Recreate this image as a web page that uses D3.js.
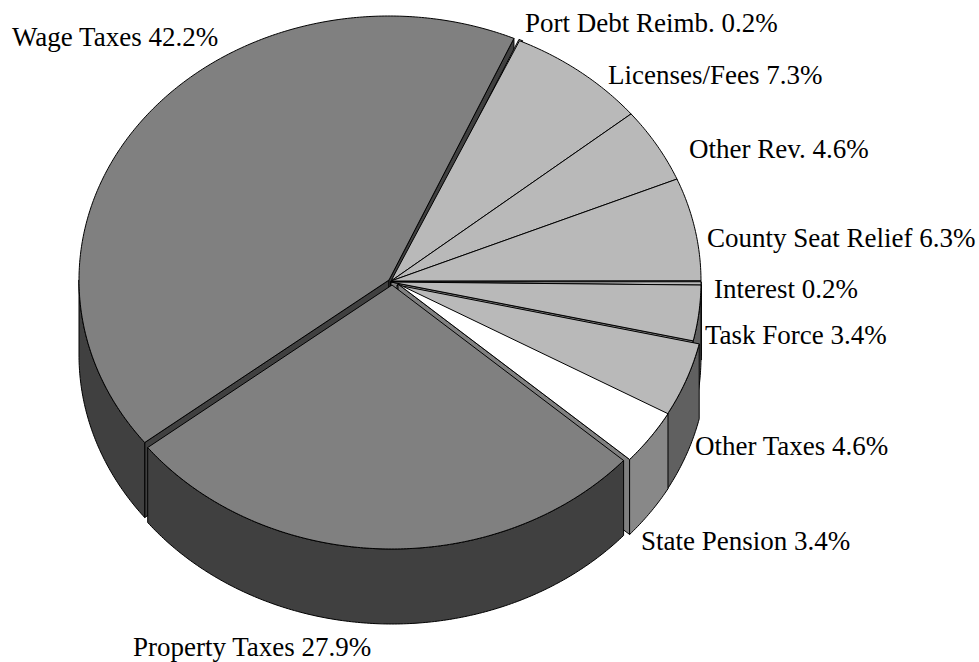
<!DOCTYPE html>
<html>
<head>
<meta charset="utf-8">
<script src="https://cdnjs.cloudflare.com/ajax/libs/d3/7.8.5/d3.min.js"></script>
<style>
html,body{margin:0;padding:0;background:#fff}
svg{display:block}
text{font-family:"Liberation Serif","Times New Roman",serif;font-size:27px;fill:#000}
</style>
</head>
<body>
<svg id="chart" width="979" height="662"></svg>
<script>
// Revenue shares, clockwise from the lower left of the pie
const categories = ["Wage Taxes","Port Debt Reimb.","Licenses/Fees","Other Rev.","County Seat Relief","Interest","Task Force","Other Taxes","State Pension","Property Taxes"];
const shares = [42.2,0.2,7.3,4.6,6.3,0.2,3.4,4.6,3.4,27.9];
const shadeGroups = ["mid","light","light","light","light","light","light","light","white","mid"];

// Pie geometry
const RX = 310, RY = 264, CX = 390, CY = 282, DEPTH = 75;
const START = -128 * Math.PI / 180;
const explode = [[-1,-2],[4,-1],[1,-1],[1,-1],[1,-1],[1,0],[1,0],[7,3],[8,2],[2,3]];
const labelAnchors = [[12,46],[525,32],[608,84],[689,158],[707,247],[714,298],[705,344],[695,455],[641,550],[133,656]];

const palette = {
  mid:   {top:"#808080", wall:"#404040", cut:"#404040"},
  light: {top:"#b9b9b9", wall:"#606060", cut:"#808080"},
  white: {top:"#ffffff", wall:"#888888", cut:"#808080"}
};

const svg = d3.select("#chart");
const sx = d3.scaleLinear().domain([-1,1]).range([CX-RX,CX+RX]);
const sy = d3.scaleLinear().domain([-1,1]).range([CY-RY,CY+RY]);

const arcs = d3.pie().sort(null).value(d=>d)
  .startAngle(START).endAngle(START + 2*Math.PI * d3.sum(shares)/100)(shares);

const rim = (a,off,dy=0)=>[sx(Math.sin(a))+off[0], sy(-Math.cos(a))+off[1]+dy];
const line = d3.line();

function rimPoints(a0,a1,off,dy=0){
  const n = Math.max(2,Math.ceil(Math.abs(a1-a0)/0.01));
  return d3.range(n+1).map(i=>rim(a0+(a1-a0)*i/n,off,dy));
}
const shape = (pts,fill)=>svg.append("path")
  .attr("d",line(pts)+"Z").attr("fill",fill)
  .attr("stroke","#000").attr("stroke-width",1).attr("stroke-linejoin","round");

arcs.forEach((a,i)=>{
  const off = explode[i], col = palette[shadeGroups[i]];
  const apex = [CX+off[0],CY+off[1]];
  const low = [apex[0],apex[1]+DEPTH];

  // cut faces that turn toward the viewer
  if(Math.sin(a.startAngle)<0) shape([apex,rim(a.startAngle,off),rim(a.startAngle,off,DEPTH),low],col.cut);
  if(Math.sin(a.endAngle)>0) shape([apex,rim(a.endAngle,off),rim(a.endAngle,off,DEPTH),low],col.cut);

  // outer wall: only the part on the near half of the ellipse
  [[Math.PI/2,3*Math.PI/2],[-3*Math.PI/2,-Math.PI/2]].forEach(([s,e])=>{
    const a0 = Math.max(a.startAngle,s), a1 = Math.min(a.endAngle,e);
    if(a1>a0) shape(rimPoints(a0,a1,off).concat(rimPoints(a1,a0,off,DEPTH)),col.wall);
  });

  // top face
  shape([apex].concat(rimPoints(a.startAngle,a.endAngle,off)),col.top);
});

// Slice labels
svg.append("g").selectAll("text").data(categories).join("text")
  .attr("x",(d,i)=>labelAnchors[i][0])
  .attr("y",(d,i)=>labelAnchors[i][1])
  .text((d,i)=>`${d} ${shares[i].toFixed(1)}%`);
</script>
</body>
</html>
